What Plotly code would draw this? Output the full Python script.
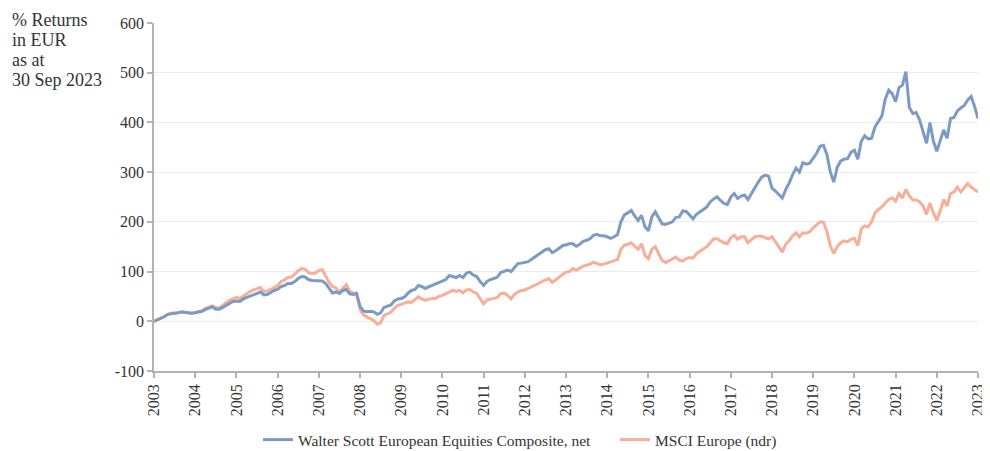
import plotly.graph_objects as go

# Month index (0 = start of 2003, 240 = start of 2023)
months = list(range(241))

walter_scott = [
    # 2003
    0, 3, 6, 9, 14, 15, 15, 17, 19, 18, 17, 16,
    # 2004
    17, 19, 20, 24, 27, 29, 24, 24, 28, 32, 37, 40,
    # 2005
    41, 40, 45, 48, 50, 54, 57, 59, 53, 54, 58, 62,
    # 2006
    64, 70, 72, 76, 76, 80, 86, 90, 89, 84, 82, 82,
    # 2007
    81, 81, 76, 66, 57, 59, 56, 62, 64, 55, 54, 56,
    # 2008
    30, 21, 19, 20, 19, 14, 17, 28, 31, 33, 41, 45,
    # 2009
    46, 49, 57, 62, 64, 72, 70, 66, 69, 72, 74, 78,
    # 2010
    81, 84, 92, 90, 88, 92, 88, 97, 99, 93, 90, 80,
    # 2011
    72, 80, 84, 86, 89, 98, 101, 103, 100, 108, 116, 117,
    # 2012
    118, 120, 125, 130, 135, 140, 144, 146, 138, 142, 147, 152,
    # 2013
    154, 156, 156, 151, 155, 161, 163, 166, 173, 175, 172, 172,
    # 2014
    170, 167, 170, 174, 200, 214, 218, 223, 212, 203, 213, 190,
    # 2015
    182, 210, 220, 208, 196, 195, 198, 200, 209, 210, 222, 221,
    # 2016
    214, 206, 215, 221, 225, 230, 240, 246, 250, 243, 237, 235,
    # 2017
    250, 257, 247, 252, 254, 245, 257, 270, 280, 290, 294, 292,
    # 2018
    268, 262, 255, 248, 265, 278, 295, 308, 300, 319, 316, 318,
    # 2019
    328, 338, 352, 354, 335, 300, 280, 310, 322, 326, 327, 340,
    # 2020
    344, 326, 362, 373, 367, 368, 391, 402, 413, 447, 465, 458,
    # 2021
    442, 470, 475, 502, 430, 418, 420, 405, 380, 358, 400, 362,
    # 2022
    342, 362, 385, 368, 408, 410, 423, 429, 434, 445, 452, 432,
    # 2023
    408,
]

msci_europe = [
    # 2003
    0, 4, 7, 10, 14, 16, 16, 17, 18, 17, 16, 16,
    # 2004
    18, 19, 21, 26, 29, 31, 27, 27, 32, 37, 42, 45,
    # 2005
    48, 46, 51, 56, 60, 63, 66, 68, 60, 61, 64, 68,
    # 2006
    72, 80, 83, 88, 89, 95, 102, 106, 105, 98, 96, 97,
    # 2007
    102, 104, 90, 78, 70, 67, 59, 66, 74, 60, 57, 56,
    # 2008
    24, 13, 9, 5, 1, -6, -3, 12, 15, 18, 26, 32,
    # 2009
    34, 36, 39, 38, 44, 49, 45, 42, 44, 46, 46, 50,
    # 2010
    52, 55, 59, 62, 60, 62, 57, 63, 64, 59, 56, 44,
    # 2011
    35, 43, 44, 46, 48, 56, 57, 52, 45, 54, 59, 62,
    # 2012
    63, 66, 69, 72, 76, 80, 83, 86, 78, 84, 89, 94,
    # 2013
    99, 100, 106, 103, 107, 111, 113, 115, 119, 117, 114, 115,
    # 2014
    117, 119, 121, 124, 145, 153, 155, 158, 151, 145, 156, 132,
    # 2015
    126, 145, 150, 136, 122, 118, 122, 126, 129, 123, 121, 126,
    # 2016
    128, 127, 136, 141, 145, 150, 158, 166, 166, 162, 158, 156,
    # 2017
    168, 173, 165, 170, 170, 158, 165, 170, 171, 171, 168, 166,
    # 2018
    170, 160, 150, 139, 155, 162, 172, 178, 170, 178, 177, 180,
    # 2019
    188, 195, 200, 199, 180, 152, 136, 150, 158, 162, 160, 165,
    # 2020
    167, 152, 186, 192, 190, 200, 218, 225, 230, 238, 245, 248,
    # 2021
    242, 257, 248, 265, 252, 244, 244, 240, 232, 215, 238, 218,
    # 2022
    203, 222, 245, 232, 257, 260, 270, 260, 268, 277, 270, 265,
    # 2023
    260,
]

year_labels = [str(y) for y in range(2003, 2024)]
year_ticks = [12 * i for i in range(len(year_labels))]
y_ticks = [-100, 0, 100, 200, 300, 400, 500, 600]
y_tick_labels = ["-100", "0", "100", "200", "300", "400", "500", "600"]

title_lines = ["% Returns", "in EUR", "as at", "30 Sep 2023"]

series_names = ["Walter Scott European Equities Composite, net", "MSCI Europe (ndr)"]
series_colors = ["#7b9bc4", "#f8ae97"]

FONT = "Liberation Serif"
TXT = "#333333"

# The page body adds an 8px offset; the figure is sized to compensate.
W, H = 982, 443
ML, MR, MT, MB = 146, 12, 15, 80
plot_h = H - MT - MB
plot_w = W - ML - MR

fig = go.Figure()
fig.add_trace(go.Scatter(
    x=months, y=msci_europe, mode="lines", name=series_names[1],
    line=dict(color=series_colors[1], width=3), legend="legend2",
))
fig.add_trace(go.Scatter(
    x=months, y=walter_scott, mode="lines", name=series_names[0],
    line=dict(color=series_colors[0], width=3), legend="legend",
))

title_centers = [12, 32, 52, 72]
annotations = [
    dict(text=t, xref="paper", yref="paper",
         x=(2 - ML) / plot_w, y=(MT + plot_h - cy) / plot_h,
         xanchor="left", yanchor="middle", align="left", showarrow=False,
         font=dict(family=FONT, size=18, color=TXT))
    for t, cy in zip(title_lines, title_centers)
]

fig.update_layout(
    width=W, height=H,
    margin=dict(l=ML, r=MR, t=MT, b=MB, autoexpand=False),
    paper_bgcolor="white", plot_bgcolor="white",
    font=dict(family=FONT, size=15, color=TXT),
    showlegend=True,
    legend=dict(orientation="h", xref="container", yref="container",
                x=250 / W, y=(H - 432) / H, xanchor="left", yanchor="middle",
                font=dict(family=FONT, size=15.5, color=TXT), bgcolor="rgba(0,0,0,0)"),
    legend2=dict(orientation="h", xref="container", yref="container",
                 x=607 / W, y=(H - 432) / H, xanchor="left", yanchor="middle",
                 font=dict(family=FONT, size=15.5, color=TXT), bgcolor="rgba(0,0,0,0)"),
    xaxis=dict(
        range=[0, 240], tickmode="array", tickvals=year_ticks, ticktext=year_labels,
        tickangle=-90, showgrid=False, zeroline=False, automargin=False,
        showline=True, linecolor="#b3b3b3", linewidth=1.5,
        ticks="outside", ticklen=5, tickcolor="#b3b3b3", tickwidth=1.5,
        tickfont=dict(family=FONT, size=16, color=TXT),
    ),
    yaxis=dict(
        range=[-100, 600], tickmode="array", tickvals=y_ticks, ticktext=y_tick_labels,
        showgrid=True, gridcolor="#ececec", gridwidth=1, automargin=False,
        zeroline=True, zerolinecolor="#ececec", zerolinewidth=1,
        showline=True, linecolor="#b3b3b3", linewidth=1.5,
        ticks="outside", ticklen=5, tickcolor="#b3b3b3", tickwidth=1.5,
        tickfont=dict(family=FONT, size=16, color=TXT),
    ),
    annotations=annotations,
)

fig.write_html("out.html")
